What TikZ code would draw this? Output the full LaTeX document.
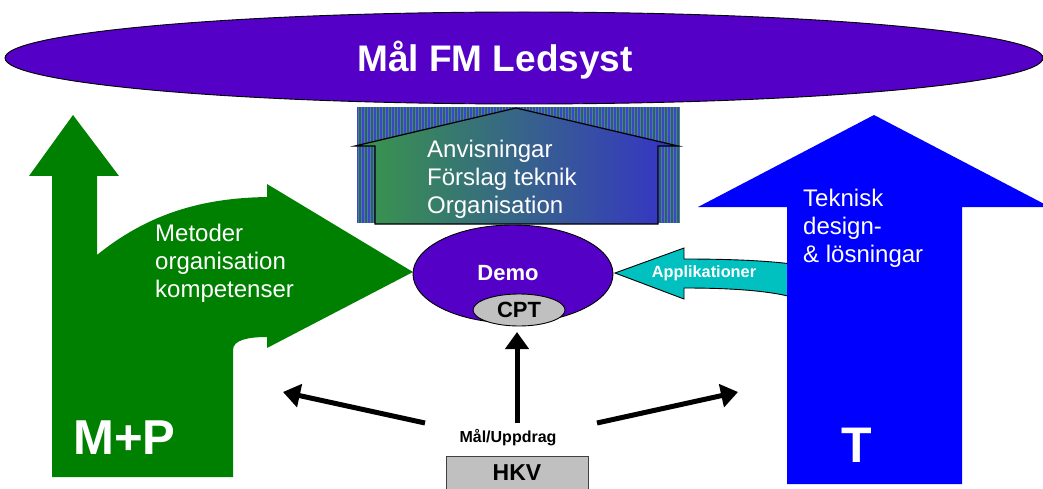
\documentclass[tikz,border=0pt]{standalone}
\usepackage{fontspec}
\setmainfont{Liberation Sans}
\usetikzlibrary{arrows.meta,shapes.geometric}
\definecolor{purp}{RGB}{84,0,198}
\definecolor{mpgreen}{RGB}{0,128,0}
\definecolor{tblue}{RGB}{0,0,255}
\definecolor{appcyan}{RGB}{0,192,192}
\definecolor{boxgray}{RGB}{192,192,192}
\definecolor{stripeblue}{RGB}{60,70,200}
\definecolor{stripegreen}{RGB}{60,150,70}
\definecolor{hgreen}{RGB}{56,152,72}
\definecolor{hblue}{RGB}{54,50,200}
\tikzset{
  purpell/.style={ellipse, draw=black, line width=0.9pt, fill=purp, inner sep=0pt},
  whitetxt/.style={text=white, inner sep=0pt, align=left, anchor=west, font=\fontsize{24}{28}\selectfont},
  bigarrow/.style={line width=5pt, -{Triangle[length=17pt 0 0, width=23pt 0 0]}},
}
\begin{document}
\begin{tikzpicture}[x=1pt,y=-1pt]
\useasboundingbox (0,0) rectangle (1043,489);

% top goal ellipse
\node[purpell, minimum width=1038pt, minimum height=92pt] (goal) at (524,58) {};
\node[text=white, font=\fontsize{37}{44}\selectfont\bfseries, inner sep=0pt] (goaltxt) at (495,60) {Mål FM Ledsyst};

% striped background and house
\fill[stripeblue] (357,107) rectangle (680,223);
\foreach \x in {358,361,...,679} \fill[stripegreen] (\x,107) rectangle (\x+1.3,223);
\shade[left color=hgreen, right color=hblue] (355,146) -- (516,108) -- (678,146) -- (658,146) -- (658,224) -- (375,224) -- (375,146) -- cycle;
\draw[black, line width=1.2pt, line join=miter] (355,146) -- (516,108) -- (678,146) -- (658,146) -- (658,224) -- (375,224) -- (375,146) -- cycle;
\node[whitetxt] (house) at (427,179) {Anvisningar\\Förslag teknik\\Organisation};

% green M+P arrow
\fill[mpgreen] (52,477) -- (52,176) -- (29,176) -- (73,115) -- (119,176) -- (97,176) -- (97,255)
  .. controls (150,212) and (205,198) .. (267,197) -- (267,184) -- (413,272) -- (267,348) -- (267,337)
  .. controls (248,337) and (233,340) .. (233,350) -- (233,477) -- cycle;
\node[whitetxt] (metod) at (155,263) {Metoder\\organisation\\kompetenser};
\node[text=white, inner sep=0pt, font=\fontsize{49}{56}\selectfont\bfseries, anchor=west] (mp) at (73,438) {M+P};

% cyan Applikationer arrow
\filldraw[fill=appcyan, draw=black, line width=0.9pt] (792,264) .. controls (760,260) and (720,259) .. (684,259)
  -- (684,248) -- (615,273) -- (684,299) -- (684,288) .. controls (725,288) and (765,290) .. (792,297);
\node[text=white, inner sep=0pt, font=\fontsize{16.3}{19}\selectfont\bfseries] (app) at (704,273) {Applikationer};

% blue T arrow
\fill[tblue] (787,484) -- (787,207) -- (698,207) -- (874,115) -- (1050,207) -- (962,207) -- (962,484) -- cycle;
\node[whitetxt] (tek) at (803,228) {Teknisk\\design-\\\& lösningar};
\node[text=white, inner sep=0pt, font=\fontsize{50}{56}\selectfont\bfseries] (T) at (857,445) {T};

% Demo ellipse
\node[purpell, minimum width=200pt, minimum height=98pt] (demo) at (513,274) {};
\node[text=white, inner sep=0pt, font=\fontsize{22}{26}\selectfont\bfseries] (demotxt) at (508,273) {Demo};
\node[ellipse, draw=black, line width=0.9pt, fill=boxgray, minimum width=92pt, minimum height=32pt, inner sep=0pt,
  font=\fontsize{22}{26}\selectfont\bfseries] (cpt) at (519,310) {CPT};

% HKV and Mål/Uppdrag
\node[draw=black!75, line width=1pt, fill=boxgray, minimum width=142pt, minimum height=34pt, inner sep=0pt,
  font=\fontsize{23}{26}\selectfont\bfseries] (hkv) at (517,473) {HKV};
\node[inner sep=0pt, font=\fontsize{16}{19}\selectfont\bfseries] (mal) at (508,438) {Mål/Uppdrag};

% arrows
\coordinate (s1) at (517,423);
\coordinate (s2) at (425,423);
\coordinate (s3) at (597,423);
\coordinate (t1) at (517,332);
\coordinate (t2) at (283,392);
\coordinate (t3) at (738,392);
\draw[bigarrow] (s1) -- (t1);
\draw[bigarrow] (s2) -- (t2);
\draw[bigarrow] (s3) -- (t3);
\end{tikzpicture}
\end{document}
